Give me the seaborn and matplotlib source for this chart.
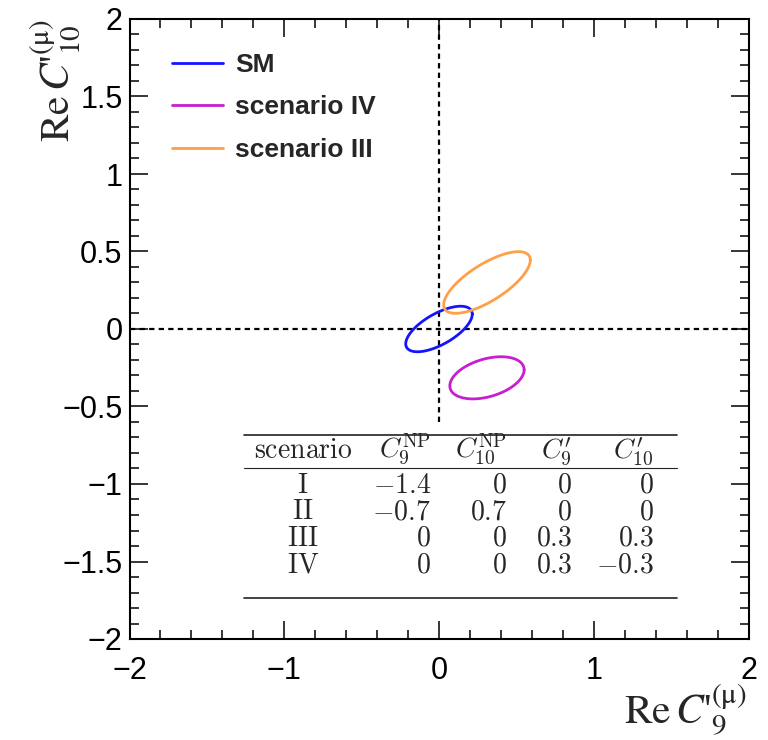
import numpy as np
import pandas as pd
import matplotlib
matplotlib.use("Agg")
import matplotlib.pyplot as plt
import seaborn as sns
from matplotlib.ticker import MultipleLocator, FuncFormatter
from matplotlib.lines import Line2D

# ---- contour ellipses ----
series = ["SM", "scenario IV", "scenario III"]
center_x = [0.00, 0.31, 0.31]
center_y = [0.00, -0.315, 0.30]
half_x = [0.215, 0.240, 0.280]
half_y = [0.147, 0.136, 0.199]
corr = [0.65, 0.38, 0.725]
colors = ["#1414ff", "#c81ed2", "#ffa046"]

# ---- inset table ----
tab_scenario = ["I", "II", "III", "IV"]
tab_c9np = [-1.4, -0.7, 0, 0]
tab_c10np = [0, 0.7, 0, 0]
tab_c9p = [0, 0, 0.3, 0.3]
tab_c10p = [0, 0, 0.3, -0.3]
tab_header = [r"$\mathrm{scenario}$", r"$C_9^{\mathrm{NP}}$", r"$C_{10}^{\mathrm{NP}}$",
              r"$C_{9}^{\prime}$", r"$C_{10}^{\prime}$"]

# axis ranges / ticks
xlim = (-2, 2)
ylim = (-2, 2)
vline_bottom = -0.6

sns.set_style("ticks")
plt.rcParams["font.family"] = ["Liberation Sans", "DejaVu Sans"]
plt.rcParams["axes.unicode_minus"] = True

fig = plt.figure(figsize=(7.68, 7.40), dpi=100)
ax = fig.add_axes([129.5 / 768, 1 - 639 / 740, 619 / 768, 620 / 740])

# build outline points from ellipse parameters
t = np.linspace(0, 2 * np.pi, 400)
rows = []
for name, cx, cy, sx, sy, r in zip(series, center_x, center_y, half_x, half_y, corr):
    xs = cx + sx * np.cos(t)
    ys = cy + sy * (r * np.cos(t) + np.sqrt(1 - r * r) * np.sin(t))
    rows.append(pd.DataFrame({"x": xs, "y": ys, "series": name}))
df = pd.concat(rows, ignore_index=True)

sns.lineplot(data=df, x="x", y="y", hue="series", hue_order=series,
             palette=dict(zip(series, colors)), sort=False, estimator=None,
             linewidth=2.0, legend=False, ax=ax, zorder=3)

dash = (0, (2.4, 1.9))
ax.axhline(0, color="black", lw=1.6, ls=dash, zorder=2)
ax.axvline(0, ymin=(vline_bottom - ylim[0]) / (ylim[1] - ylim[0]), ymax=1,
           color="black", lw=1.6, ls=dash, zorder=2)

ax.set_xlim(*xlim)
ax.set_ylim(*ylim)
ax.xaxis.set_major_locator(MultipleLocator(1))
ax.xaxis.set_minor_locator(MultipleLocator(0.2))
ax.yaxis.set_major_locator(MultipleLocator(0.5))
ax.yaxis.set_minor_locator(MultipleLocator(0.1))
fmt = FuncFormatter(lambda v, p: f"{v:g}".replace("-", "\u2212"))
ax.xaxis.set_major_formatter(fmt)
ax.yaxis.set_major_formatter(fmt)
ax.tick_params(which="both", direction="in", top=True, right=True, colors="black",
               width=1.1)
ax.tick_params(which="major", length=13, labelsize=22)
ax.tick_params(which="minor", length=6.5)
ax.tick_params(axis="x", which="major", pad=12)
ax.tick_params(axis="y", which="major", pad=5)
for s in ax.spines.values():
    s.set_linewidth(1.5)
    s.set_color("black")

# axis labels (ROOT style)
xlab = r"$\mathrm{Re}\,C$" + "'" + r"${}^{(\mathrm{\mu})}_{9}$"
ylab = r"$\mathrm{Re}\,C$" + "'" + r"${}^{(\mathrm{\mu})}_{10}$"
ax.set_xlabel(xlab, fontsize=30, family="Liberation Serif",
              math_fontfamily="stix", ha="right", va="baseline")
ax.xaxis.set_label_coords((747 - 129.5) / 619, (639 - 723) / 620)
ax.set_ylabel(ylab, fontsize=30, family="Liberation Serif",
              math_fontfamily="stix", ha="right", va="baseline", rotation=90,
              rotation_mode="anchor")
ax.yaxis.set_label_coords((70 - 129.5) / 619, 1.0)

# legend
handles = [Line2D([], [], color=c, lw=2.0) for c in colors]
ax.legend(handles, series, loc="center left",
          bbox_to_anchor=(172 / 768, 1 - 107.3 / 740), bbox_transform=fig.transFigure,
          frameon=False, borderpad=0, borderaxespad=0, handlelength=1.95,
          handletextpad=0.45, labelspacing=0.7,
          prop={"family": "Liberation Sans", "weight": "bold", "size": 19})

# table drawn in data coordinates
def px2x(px):
    return (px - 439) / 154.75

def py2y(py):
    return (329 - py) / 155.0

tab_left, tab_right = px2x(244), px2x(677)
ax.plot([tab_left, tab_right], [py2y(435)] * 2, color="#222222", lw=1.2, zorder=4)
ax.plot([tab_left, tab_right], [py2y(467.7)] * 2, color="#222222", lw=0.8, zorder=4)
ax.plot([tab_left, tab_right], [py2y(598.3)] * 2, color="#222222", lw=1.2, zorder=4)

col_x = [px2x(303), px2x(431), px2x(507), px2x(572), px2x(654)]
col_ha = ["center", "right", "right", "right", "right"]
tfs = 20
for cx, ha, txt in zip(col_x, col_ha, tab_header):
    ax.text(cx, py2y(458), txt, ha=ha, va="baseline", fontsize=tfs,
            math_fontfamily="cm", zorder=5)
row_base = [492.7, 519.3, 546.0, 572.7]
for i, sc in enumerate(tab_scenario):
    vals = [r"$\mathrm{%s}$" % sc] + [f"${v:g}$" for v in
                                      (tab_c9np[i], tab_c10np[i], tab_c9p[i], tab_c10p[i])]
    for cx, ha, txt in zip(col_x, col_ha, vals):
        ax.text(cx, py2y(row_base[i]), txt, ha=ha, va="baseline", fontsize=tfs,
                math_fontfamily="cm", zorder=5)

fig.savefig("out.png", dpi=100)
